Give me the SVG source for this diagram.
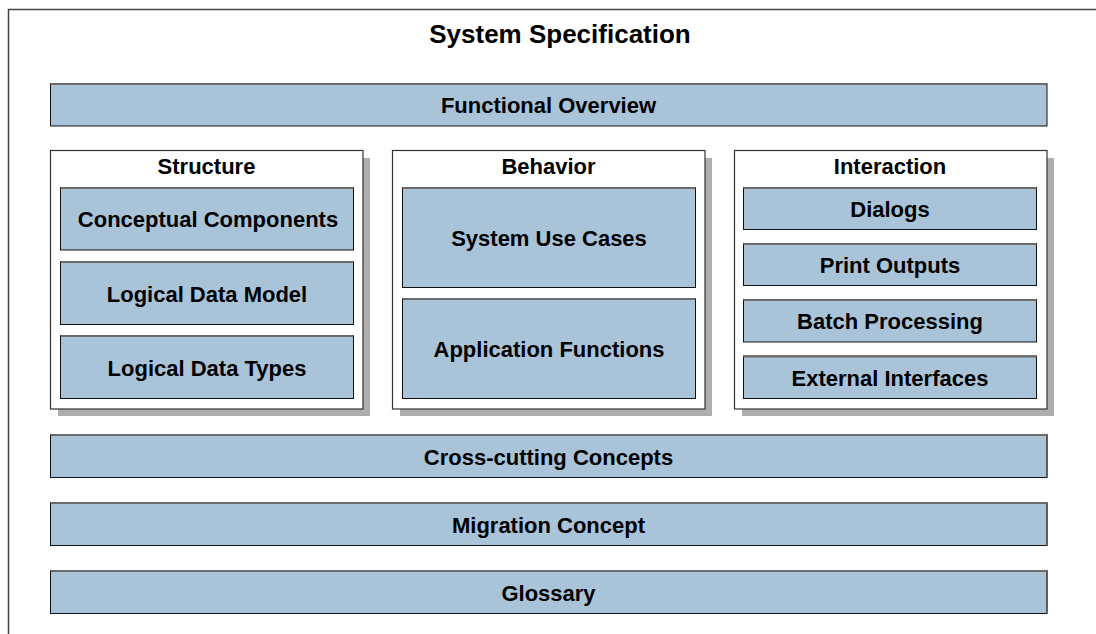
<svg xmlns="http://www.w3.org/2000/svg" width="1096" height="634" viewBox="0 0 1096 634">
  <style>
    text { font-family: "Liberation Sans", Arial, sans-serif; font-weight: bold; fill: #000; text-anchor: middle; }
    .title { font-size: 26px; }
    .lbl { font-size: 22px; }
    .box { fill: #A9C4D9; stroke: #111; stroke-width: 1; }
    .edge-top { stroke: #6b6b6b; stroke-width: 2; }
    .edge-right { stroke: #555; stroke-width: 1.5; }
    .panel { fill: #fff; stroke: #333; stroke-width: 1.2; }
    .shadow { fill: #aeaeae; }
    .frame { fill: #fff; stroke: #444; stroke-width: 1.5; }
  </style>

  <!-- page frame -->
  <rect class="frame" x="8.5" y="9.5" width="1120" height="660"/>
  <text class="title" x="560" y="43">System Specification</text>

  <!-- full-width bar -->
  <g id="functional-overview">
    <rect class="box" x="50.5" y="83.5" width="996.5" height="42.5"/>
    <line class="edge-top" x1="50.5" y1="84" x2="1047" y2="84"/>
    <text class="lbl" x="548.5" y="113">Functional Overview</text>
  </g>

  <!-- Structure panel -->
  <g id="structure">
    <rect class="shadow" x="58" y="158" width="312" height="258"/>
    <rect class="panel" x="50.5" y="150.5" width="312.5" height="258.5"/>
    <text class="lbl" x="206.5" y="174">Structure</text>
  </g>
  <g id="conceptual-components">
    <rect class="box" x="60.5" y="187.5" width="293" height="62.5"/>
    <line class="edge-top" x1="60.5" y1="188" x2="353.5" y2="188"/>
    <text class="lbl" x="208" y="227">Conceptual Components</text>
  </g>
  <g id="logical-data-model">
    <rect class="box" x="60.5" y="261.5" width="293" height="63"/>
    <line class="edge-top" x1="60.5" y1="262" x2="353.5" y2="262"/>
    <text class="lbl" x="207" y="301.5">Logical Data Model</text>
  </g>
  <g id="logical-data-types">
    <rect class="box" x="60.5" y="335.5" width="293" height="63"/>
    <line class="edge-top" x1="60.5" y1="336" x2="353.5" y2="336"/>
    <text class="lbl" x="207" y="375.5">Logical Data Types</text>
  </g>

  <!-- Behavior panel -->
  <g id="behavior">
    <rect class="shadow" x="400" y="158" width="312" height="258"/>
    <rect class="panel" x="392.5" y="150.5" width="312.5" height="258.5"/>
    <text class="lbl" x="548.5" y="174">Behavior</text>
  </g>
  <g id="system-use-cases">
    <rect class="box" x="402.5" y="187.5" width="293" height="100"/>
    <line class="edge-top" x1="402.5" y1="188" x2="695.5" y2="188"/>
    <text class="lbl" x="549" y="246">System Use Cases</text>
  </g>
  <g id="application-functions">
    <rect class="box" x="402.5" y="298.5" width="293" height="100"/>
    <line class="edge-top" x1="402.5" y1="299" x2="695.5" y2="299"/>
    <text class="lbl" x="549" y="357">Application Functions</text>
  </g>

  <!-- Interaction panel -->
  <g id="interaction">
    <rect class="shadow" x="742" y="158" width="312" height="258"/>
    <rect class="panel" x="734.5" y="150.5" width="312.5" height="258.5"/>
    <text class="lbl" x="890" y="174">Interaction</text>
  </g>
  <g id="dialogs">
    <rect class="box" x="743.5" y="187.5" width="293" height="42"/>
    <line class="edge-top" x1="743.5" y1="188" x2="1036.5" y2="188"/>
    <text class="lbl" x="890" y="217">Dialogs</text>
  </g>
  <g id="print-outputs">
    <rect class="box" x="743.5" y="243.5" width="293" height="42"/>
    <line class="edge-top" x1="743.5" y1="244" x2="1036.5" y2="244"/>
    <text class="lbl" x="890" y="273">Print Outputs</text>
  </g>
  <g id="batch-processing">
    <rect class="box" x="743.5" y="299.5" width="293" height="42.5"/>
    <line class="edge-top" x1="743.5" y1="300" x2="1036.5" y2="300"/>
    <text class="lbl" x="890" y="329">Batch Processing</text>
  </g>
  <g id="external-interfaces">
    <rect class="box" x="743.5" y="356" width="293" height="42.5"/>
    <line class="edge-top" x1="743.5" y1="356.5" x2="1036.5" y2="356.5"/>
    <text class="lbl" x="890" y="385.5">External Interfaces</text>
  </g>

  <!-- lower full-width bars -->
  <g id="cross-cutting-concepts">
    <rect class="box" x="50.5" y="434.5" width="996.5" height="43"/>
    <line class="edge-top" x1="50.5" y1="435" x2="1047" y2="435"/>
    <line class="edge-right" x1="1047" y1="434.5" x2="1047" y2="477.5"/>
    <text class="lbl" x="548.5" y="464.5">Cross-cutting Concepts</text>
  </g>
  <g id="migration-concept">
    <rect class="box" x="50.5" y="502.5" width="996.5" height="43"/>
    <line class="edge-top" x1="50.5" y1="503" x2="1047" y2="503"/>
    <line class="edge-right" x1="1047" y1="502.5" x2="1047" y2="545.5"/>
    <text class="lbl" x="548.5" y="532.5">Migration Concept</text>
  </g>
  <g id="glossary">
    <rect class="box" x="50.5" y="570.5" width="996.5" height="43"/>
    <line class="edge-top" x1="50.5" y1="571" x2="1047" y2="571"/>
    <line class="edge-right" x1="1047" y1="570.5" x2="1047" y2="613.5"/>
    <text class="lbl" x="548.5" y="600.5">Glossary</text>
  </g>

  <!-- no connectors in this layout -->
  <g id="connectors"/>
</svg>
